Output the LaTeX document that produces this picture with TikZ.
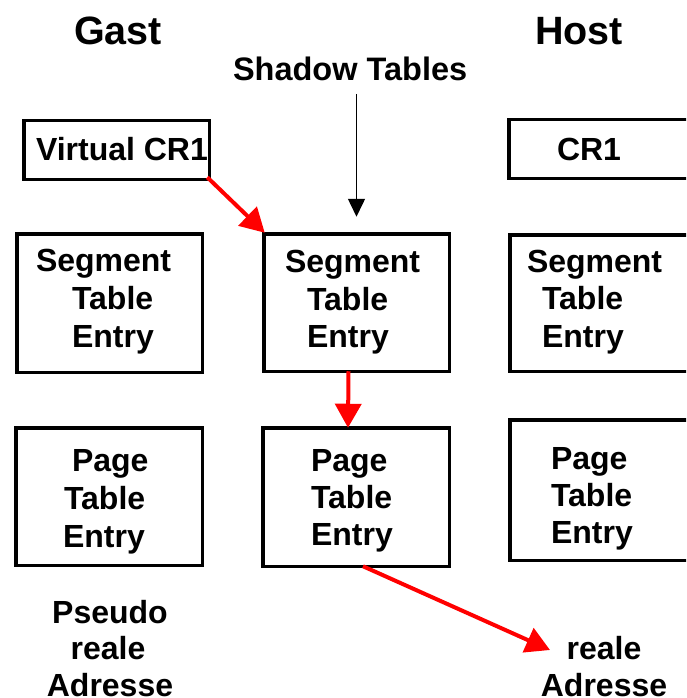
\documentclass[tikz,border=0pt]{standalone}
\usepackage{fontspec}
\setmainfont{Liberation Sans}
\usetikzlibrary{arrows.meta}
\tikzset{
  box/.style={draw=black, line width=3.5pt, inner sep=0pt, outer sep=0pt, rectangle},
  lbl/.style={inner sep=0pt, outer sep=0pt, anchor=base west, font=\fontsize{32}{38}\selectfont\bfseries},
  clbl/.style={lbl, anchor=base},
  title/.style={lbl, font=\fontsize{39.5}{46}\selectfont\bfseries},
  redarrow/.style={draw=red, line width=4pt, -{Triangle[length=24pt,width=26pt]}},
  blkarrow/.style={draw=black, line width=1.5pt, -{Triangle[length=18pt,width=17pt]}}
}
\begin{document}
\begin{tikzpicture}[x=1pt,y=-1pt]
\useasboundingbox (0,0) rectangle (686,698);
\clip (0,0) rectangle (686,698);
% titles
\node[title] (gast) at (74,45) {Gast};
\node[title] (host) at (535,45) {Host};
\node[lbl, font=\fontsize{32.5}{38}\selectfont\bfseries] (shadow) at (233,81) {Shadow Tables};
% boxes
\node[box, minimum width=185.5pt, minimum height=58.5pt] (vcr1) at (116.5,150) {};
\node[box, minimum width=229.5pt, minimum height=58.5pt] (hcr1) at (623.5,149) {};
\node[box, minimum width=185.5pt, minimum height=138.5pt] (gseg) at (109.5,303) {};
\node[box, minimum width=185.5pt, minimum height=137.5pt] (mseg) at (356.5,302.5) {};
\node[box, minimum width=228.5pt, minimum height=136.5pt] (hseg) at (624,303) {};
\node[box, minimum width=186.5pt, minimum height=137.5pt] (gpage) at (109,496.5) {};
\node[box, minimum width=186.5pt, minimum height=138.5pt] (mpage) at (356,497) {};
\node[box, minimum width=228.5pt, minimum height=140.5pt] (hpage) at (624,490) {};
% box texts
\node[lbl] (vcr1t) at (36,160) {Virtual CR1};
\node[lbl] (hcr1t) at (557,160) {CR1};
\node[lbl] (gseg1) at (36,271) {Segment};
\node[lbl] (gseg2) at (72,309) {Table};
\node[lbl] (gseg3) at (72,347) {Entry};
\node[lbl] (mseg1) at (285,272) {Segment};
\node[lbl] (mseg2) at (307,310) {Table};
\node[lbl] (mseg3) at (307,347) {Entry};
\node[lbl] (hseg1) at (527,272) {Segment};
\node[lbl] (hseg2) at (542,309) {Table};
\node[lbl] (hseg3) at (542,347) {Entry};
\node[lbl] (gpage1) at (72,471) {Page};
\node[lbl] (gpage2) at (64,509) {Table};
\node[lbl] (gpage3) at (63,547) {Entry};
\node[lbl] (mpage1) at (311,471) {Page};
\node[lbl] (mpage2) at (311,508) {Table};
\node[lbl] (mpage3) at (311,545) {Entry};
\node[lbl] (hpage1) at (551,469) {Page};
\node[lbl] (hpage2) at (551,506) {Table};
\node[lbl] (hpage3) at (551,543) {Entry};
% addresses
\node[clbl] (pra1) at (110,623) {Pseudo};
\node[clbl] (pra2) at (108,659) {reale};
\node[clbl] (pra3) at (110,696) {Adresse};
\node[clbl] (ra1) at (604,659) {reale};
\node[clbl] (ra2) at (604,696) {Adresse};
% connectors
\coordinate (bs) at (356.5,94);
\coordinate (raend) at (550,650);
\draw[blkarrow] (bs) -- ([yshift=17pt]mseg.north);
\draw[redarrow] ([xshift=-2pt,yshift=2pt]vcr1.south east) -- ([xshift=1pt,yshift=1pt]mseg.north west);
\draw[redarrow] ([xshift=-8pt]mseg.south) -- ([xshift=-8pt]mpage.north);
\draw[redarrow] ([xshift=7pt]mpage.south) -- (raend);
\end{tikzpicture}
\end{document}
